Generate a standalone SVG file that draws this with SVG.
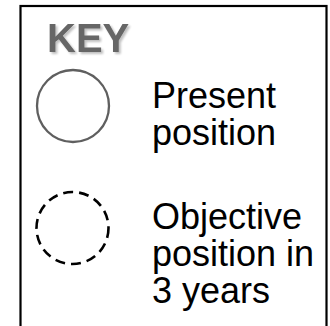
<svg xmlns="http://www.w3.org/2000/svg" width="330" height="326" viewBox="0 0 330 326">
  <defs>
    <filter id="soft-shadow" x="-10%" y="-20%" width="130%" height="150%">
      <feGaussianBlur in="SourceAlpha" stdDeviation="1"/>
      <feOffset dx="1.5" dy="1.5" result="off"/>
      <feComponentTransfer><feFuncA type="linear" slope="0.25"/></feComponentTransfer>
      <feMerge><feMergeNode/><feMergeNode in="SourceGraphic"/></feMerge>
    </filter>
  </defs>
  <style>
    .frame { fill: #ffffff; stroke: #000000; stroke-width: 2.2; }
    .title { font-family: "Liberation Sans", Arial, sans-serif; font-weight: bold; font-size: 40px; fill: #666666; }
    .label { font-family: "Liberation Sans", Arial, sans-serif; font-size: 36px; fill: #000000; }
    .present { fill: none; stroke: #5f5f5f; stroke-width: 2.3; }
    .objective { fill: none; stroke: #000000; stroke-width: 2.6; stroke-dasharray: 10 6; }
  </style>

  <!-- legend frame (open at the bottom edge) -->
  <rect class="frame" x="20.5" y="6" width="306" height="340"/>

  <text class="title" x="47" y="52" filter="url(#soft-shadow)">KEY</text>

  <g id="key-present">
    <circle class="present" cx="73" cy="106" r="36"/>
    <text class="label" x="152" y="108">Present</text>
    <text class="label" x="152" y="145">position</text>
  </g>

  <g id="key-objective">
    <circle class="objective" cx="72.5" cy="228" r="36"/>
    <text class="label" x="152" y="229">Objective</text>
    <text class="label" x="152" y="266">position in</text>
    <text class="label" x="152" y="303">3 years</text>
  </g>

  <g id="connectors"></g>
</svg>
